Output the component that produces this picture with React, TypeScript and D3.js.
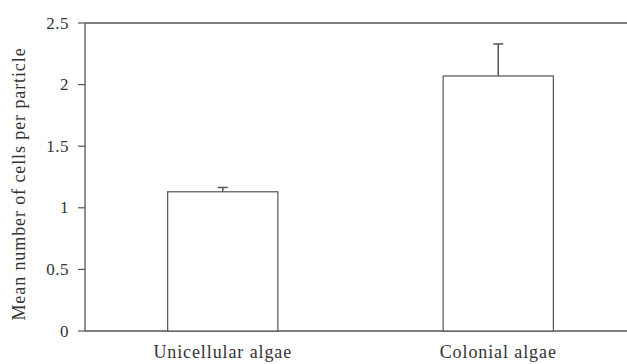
import React from "react";
import * as d3 from "d3";

const categories = ["Unicellular algae", "Colonial algae"];
const means = [1.13, 2.07];
const errors = [0.035, 0.26];
const yTicks = [0, 0.5, 1, 1.5, 2, 2.5];

const width = 627;
const height = 364;
const margin = { top: 23, right: -9, bottom: 33, left: 85 };
const ink = "#555";
const font = '"Liberation Serif", "DejaVu Serif", serif';

const App = () => {
  const x = d3
    .scaleBand()
    .domain(categories)
    .range([margin.left, width - margin.right])
    .paddingInner(0.6)
    .paddingOuter(0.3);
  const y = d3
    .scaleLinear()
    .domain([0, 2.5])
    .range([height - margin.bottom, margin.top]);

  const x0 = margin.left;
  const x1 = width - margin.right;

  return (
    <svg
      width={width}
      height={height}
      style={{ position: "absolute", left: 0, top: 0, background: "white" }}
    >
      {/* frame lines: top and bottom run off the right edge */}
      <line x1={x0} x2={x1} y1={y(2.5)} y2={y(2.5)} stroke={ink} strokeWidth={1.3} />
      <line x1={x0} x2={x1} y1={y(0)} y2={y(0)} stroke={ink} strokeWidth={1.3} />
      <line x1={x0} x2={x0} y1={y(0)} y2={y(2.5)} stroke={ink} strokeWidth={1.3} />

      {yTicks.map(t => (
        <g key={t}>
          <line x1={x0 - 7} x2={x0} y1={y(t)} y2={y(t)} stroke={ink} strokeWidth={1.2} />
          <text
            x={x0 - 16}
            y={y(t)}
            textAnchor="end"
            dominantBaseline="central"
            style={{ fontFamily: font, fontSize: 17, letterSpacing: 0.5 }}
            fill="#333"
          >
            {t}
          </text>
        </g>
      ))}

      {categories.map((c, i) => {
        const bx = x(c) as number;
        const cx = bx + x.bandwidth() / 2;
        return (
          <g key={c}>
            <line
              x1={cx}
              x2={cx}
              y1={y(means[i])}
              y2={y(means[i] + errors[i])}
              stroke={ink}
              strokeWidth={1.5}
            />
            <line
              x1={cx - 5}
              x2={cx + 5}
              y1={y(means[i] + errors[i])}
              y2={y(means[i] + errors[i])}
              stroke={ink}
              strokeWidth={1.5}
            />
            <rect
              x={bx}
              y={y(means[i])}
              width={x.bandwidth()}
              height={y(0) - y(means[i])}
              fill="white"
              stroke={ink}
              strokeWidth={1.2}
            />
            <text
              x={cx}
              y={y(0) + 27}
              textAnchor="middle"
              style={{ fontFamily: font, fontSize: 18, letterSpacing: 0.9 }}
              fill="#333"
            >
              {c}
            </text>
          </g>
        );
      })}

      <text
        transform={`translate(25 ${(y(0) + y(2.5)) / 2 + 7}) rotate(-90)`}
        textAnchor="middle"
        style={{ fontFamily: font, fontSize: 18, letterSpacing: 0.9 }}
        fill="#333"
      >
        Mean number of cells per particle
      </text>
    </svg>
  );
};

export default App;
